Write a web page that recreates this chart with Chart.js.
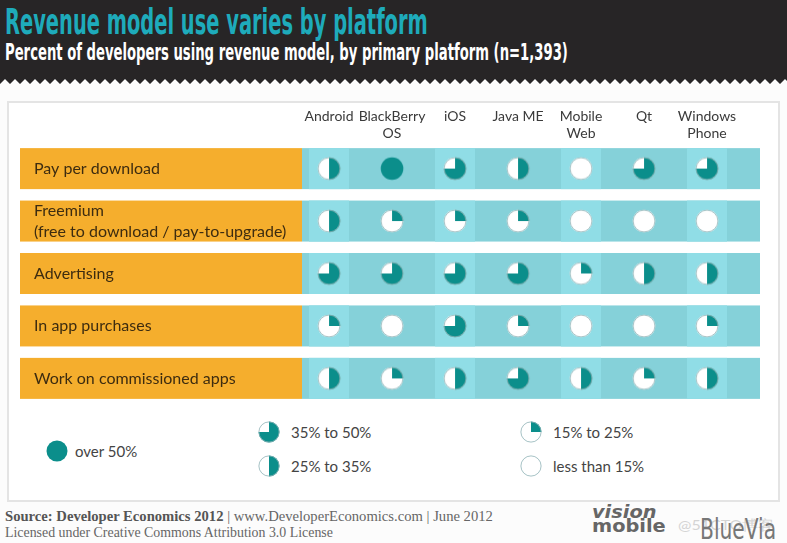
<!DOCTYPE html>
<html>
<head>
<meta charset="utf-8">
<script src="https://cdn.jsdelivr.net/npm/chart.js@4"></script>
<style>
  html, body { margin: 0; padding: 0; }
  body { width: 787px; height: 543px; position: relative; overflow: hidden; background: #fcfcfc; font-family: Lato, sans-serif; }
  #header { position: absolute; left: 0; top: 0; width: 787px; height: 86px; background: #272526; }
  .fit { position: absolute; white-space: nowrap; transform-origin: 0 0; }
  .cond { font-family: "Liberation Sans Narrow", "DejaVu Sans Condensed", sans-serif; font-weight: bold; }
  #title { left: 5px; top: 2px; font-size: 35px; color: #1eabbb; }
  #subtitle { left: 5px; top: 39px; font-size: 23px; color: #fff; }
  #panel { position: absolute; left: 7px; top: 101px; width: 769px; height: 397px; border: 2px solid #e4e4e4; background: #fff; }
  #chartBox { position: absolute; left: 0; top: 100px; width: 787px; height: 318px; }
  .key { position: absolute; font-size: 15px; color: #444; line-height: 20px; }
  .key canvas { position: absolute; left: 0; top: -2px; }
  .key span { position: absolute; white-space: nowrap; }
  .foot { left: 5px; font-family: "Liberation Serif", serif; font-size: 14px; color: #666; }
  .foot b { color: #555; }
  #vision { left: 592px; top: 505px; font-family: "DejaVu Sans", sans-serif; font-size: 17px; line-height: 14px; color: #666; font-weight: bold; }
  #bluevia { left: 700px; top: 512px; font-family: "Liberation Sans Narrow", "DejaVu Sans Condensed", sans-serif; font-size: 29px; color: #777; }
  #mark { left: 678px; top: 516px; font-size: 14px; color: #d4d4d4; }
</style>
</head>
<body>
<div id="header"></div>
<div id="title" class="fit cond">Revenue model use varies by platform</div>
<div id="subtitle" class="fit cond">Percent of developers using revenue model, by primary platform (n=1,393)</div>
<div id="panel"></div>
<div id="chartBox"><canvas id="grid"></canvas></div>
<div id="legend"></div>
<div id="foot1" class="fit foot" style="top:509px"><b>Source: Developer Economics 2012</b> | www.DeveloperEconomics.com | June 2012</div>
<div id="foot2" class="fit foot" style="top:525px">Licensed under Creative Commons Attribution 3.0 License</div>
<div id="vision" class="fit"><i>vision</i><br>mobile</div>
<div id="mark" class="fit">@51CTO博客</div>
<div id="bluevia" class="fit">BlueVia</div>
<script>
// Columnas (plataformas) y filas (modelos de ingresos)
const platforms = ['Android', ['BlackBerry', 'OS'], 'iOS', 'Java ME', ['Mobile', 'Web'], 'Qt', ['Windows', 'Phone']];
const models = ['Pay per download', ['Freemium', '(free to download / pay-to-upgrade)'], 'Advertising', 'In app purchases', 'Work on commissioned apps'];

// Nivel de uso: 0 = menos de 15%, 1 = 15-25%, 2 = 25-35%, 3 = 35-50%, 4 = más de 50%
const levelNames = ['less than 15%', '15% to 25%', '25% to 35%', '35% to 50%', 'over 50%'];
const payPerDownload = [2, 4, 3, 2, 0, 3, 3];
const freemium = [2, 1, 1, 1, 0, 0, 0];
const advertising = [3, 3, 3, 3, 1, 2, 2];
const inAppPurchases = [1, 0, 3, 1, 0, 0, 1];
const commissionedApps = [2, 1, 2, 3, 2, 1, 2];
const rows = [payPerDownload, freemium, advertising, inAppPurchases, commissionedApps];

const teal = '#0b8e8b';

// Dibuja un "pie" con cuartos rellenos según el nivel
const makePie = (level, r) => {
  const c = document.createElement('canvas');
  const s = Math.ceil(r * 2 + 3);
  c.width = s; c.height = s;
  const g = c.getContext('2d');
  const m = s / 2;
  g.beginPath();
  g.arc(m, m, r, 0, Math.PI * 2);
  g.fillStyle = level === 4 ? teal : '#fff';
  g.fill();
  if (level > 0 && level < 4) {
    g.beginPath();
    g.moveTo(m, m);
    g.arc(m, m, r, -Math.PI / 2, -Math.PI / 2 + level * Math.PI / 2);
    g.closePath();
    g.fillStyle = teal;
    g.fill();
  }
  if (level < 4) {
    g.beginPath();
    g.arc(m, m, r - 0.4, 0, Math.PI * 2);
    g.strokeStyle = '#8fb3b6';
    g.lineWidth = 0.8;
    g.stroke();
  }
  return c;
};

const pies = [0, 1, 2, 3, 4].map(l => makePie(l, 11.3));

// Cabecera con borde en zigzag
let pts = ['0 0', '787px 0'];
for (let x = 790; x >= -10; x -= 10) {
  pts.push(`${x}px 84px`, `${x - 5}px 79px`);
}
document.getElementById('header').style.clipPath = `polygon(${pts.join(',')})`;

// Ajustar el ancho de los textos
const fit = (id, w) => {
  const el = document.getElementById(id);
  el.style.transform = `scaleX(${w / el.scrollWidth})`;
};
fit('title', 423);
fit('subtitle', 563);
fit('foot1', 488);
fit('foot2', 328);
fit('vision', 74);
fit('bluevia', 76);
fit('mark', 96);

// Leyenda
const legendSpots = [
  { level: 4, x: 45, y: 441 },
  { level: 3, x: 257, y: 422 },
  { level: 2, x: 257, y: 456 },
  { level: 1, x: 519, y: 422 },
  { level: 0, x: 519, y: 456 }
];
const legendBox = document.getElementById('legend');
legendSpots.forEach(spot => {
  const div = document.createElement('div');
  div.className = 'key';
  div.style.left = spot.x + 'px';
  div.style.top = spot.y + 'px';
  div.appendChild(makePie(spot.level, 10.5));
  const span = document.createElement('span');
  span.textContent = levelNames[spot.level];
  span.style.left = (spot.level === 4 ? 30 : 34) + 'px';
  div.appendChild(span);
  legendBox.appendChild(div);
});

// Barras naranjas y franjas turquesa detrás de los puntos
const bands = {
  id: 'bands',
  beforeDraw(chart) {
    const { ctx, chartArea, scales } = chart;
    ctx.save();
    rows.forEach((row, i) => {
      const yc = scales.y.getPixelForValue(i);
      const top = yc - 20.5;
      ctx.fillStyle = '#f5ae2d';
      ctx.fillRect(20, top, chartArea.left - 20, 41);
      ctx.fillStyle = '#85d1d9';
      ctx.fillRect(chartArea.left, top, chartArea.right - chartArea.left, 41);
      ctx.fillStyle = '#90dde6';
      platforms.forEach((p, c) => {
        if (c % 2 === 0) {
          const xc = scales.x.getPixelForValue(c);
          ctx.fillRect(xc - 20, top, 40, 41);
        }
      });
    });
    ctx.restore();
  }
};

const datasets = rows.map((row, i) => ({
  label: Array.isArray(models[i]) ? models[i][0] : models[i],
  data: row.map((lvl, c) => ({ x: c, y: i })),
  pointStyle: row.map(lvl => pies[lvl]),
  pointRadius: 12
}));

new Chart('grid', {
  type: 'scatter',
  data: { datasets },
  options: {
    responsive: true,
    maintainAspectRatio: false,
    animation: false,
    events: [],
    layout: { padding: { left: 34, right: 27, top: 0, bottom: 0 } },
    plugins: { legend: { display: false }, tooltip: { enabled: false } },
    scales: {
      x: {
        position: 'top',
        min: -0.4286,
        max: 6.841,
        afterBuildTicks: s => { s.ticks = platforms.map((p, c) => ({ value: c })); },
        afterFit: s => { s.height = 42.4; },
        grid: { display: false, drawTicks: false },
        border: { display: false },
        ticks: {
          crossAlign: 'far',
          padding: 0,
          maxRotation: 0,
          autoSkip: false,
          color: '#3a3a3a',
          font: { family: 'Lato', size: 14, lineHeight: 1.22 },
          callback: v => platforms[v]
        }
      },
      y: {
        reverse: true,
        min: -0.5,
        max: 4.5,
        afterBuildTicks: s => { s.ticks = models.map((m, i) => ({ value: i })); },
        afterFit: s => { s.width = 268; },
        grid: { display: false, drawTicks: false },
        border: { display: false },
        ticks: {
          crossAlign: 'far',
          autoSkip: false,
          color: '#3d2c10',
          font: { family: 'Lato', size: 16, lineHeight: 1.3 },
          callback: v => models[v]
        }
      }
    }
  },
  plugins: [bands]
});
</script>
</body>
</html>
